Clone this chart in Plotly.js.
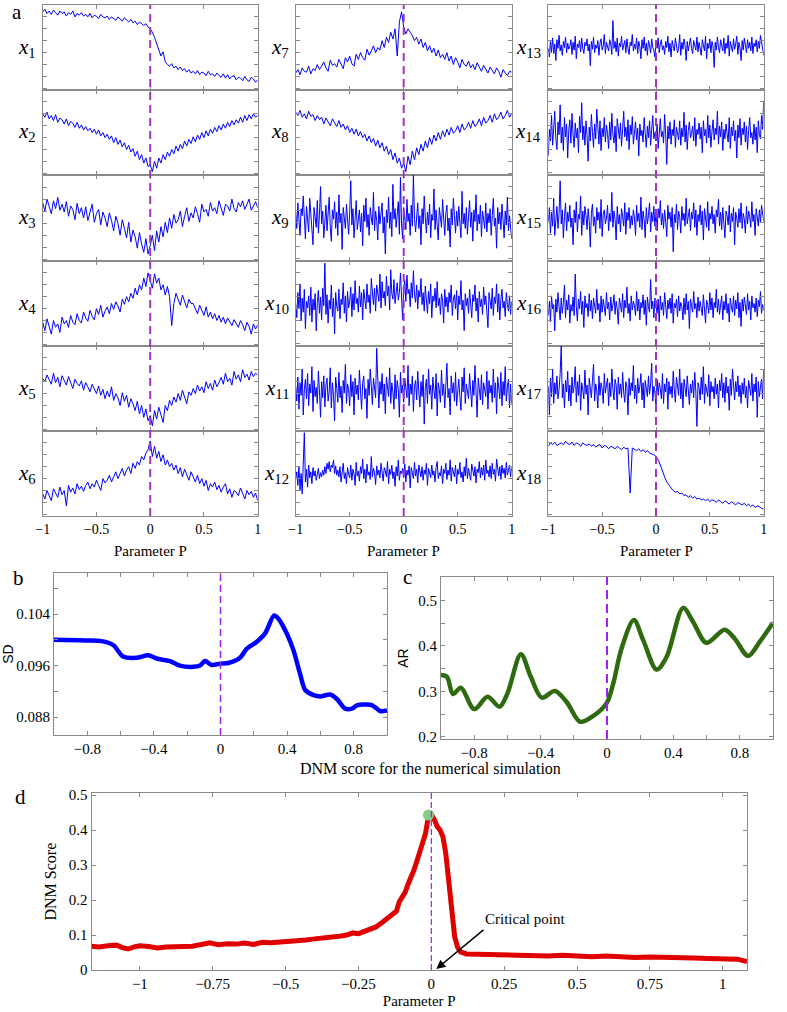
<!DOCTYPE html>
<html>
<head>
<meta charset="utf-8">
<script src="https://cdn.plot.ly/plotly-3.0.1.min.js"></script>
<style>html,body{margin:0;padding:0;background:#fff}#chart{width:787px;height:1012px}</style>
</head>
<body>
<div id="chart"></div>
<script>
// panel a series (relative units, 0 = bottom of subplot, 100 = top), sampled evenly over P in [-1, 1]
const X1 = [92,95,90,93,89,94,91,88,93,90, 92,87,91,89,93,86,90,88,91,87, 89,86,90,85,88,87,84,89,86,85, 87,83,86,84,82,86,83,81,85,82, 80,83,79,81,77,80,78,76,78,74, 72,68,62,55,48,40,45,33,30,28, 31,26,28,24,27,23,25,21,24,20, 22,19,23,18,21,20,17,22,18,19, 16,20,17,15,19,14,18,13,16,17, 12,15,14,11,16,12,10,15,13,9,12];
const X2 = [72,68,74,66,70,64,71,62,67,65, 60,66,58,63,61,56,62,55,59,53, 57,52,55,50,54,48,53,46,50,44, 48,42,46,38,44,36,41,33,38,30, 35,27,31,22,28,18,24,14,20,10, 12,4,16,8,20,14,24,18,27,22, 30,25,34,28,36,31,40,34,42,37, 45,39,47,42,50,44,52,46,54,49, 56,51,58,53,60,55,62,57,64,59, 65,61,68,62,70,64,71,66,72,68,70];
const X3 = [68,58,72,63,55,70,61,74,59,66, 57,69,52,64,60,48,67,55,62,50, 63,47,58,66,45,55,60,42,57,50, 40,56,47,35,52,44,30,48,38,27, 45,22,36,28,15,33,20,10,26,8, 18,30,12,35,22,40,28,45,33,50, 38,54,44,48,58,40,52,62,46,56, 50,63,55,45,66,57,60,52,68,58, 62,55,70,60,53,66,64,58,72,61, 57,68,63,70,60,66,72,59,65,69,62];
const X4 = [28,18,32,24,14,30,22,26,16,34, 26,30,22,36,28,25,38,30,27,40, 33,29,42,35,31,44,37,48,34,41, 46,38,50,43,52,47,40,55,49,58, 52,62,56,68,60,72,66,80,70,86, 76,68,85,74,80,66,72,60,70,58, 24,50,62,55,48,60,52,45,55,50, 50,44,38,48,42,36,46,34,40,32, 38,30,36,28,34,26,33,29,24,31, 27,22,30,25,18,28,23,14,26,20,25];
const X5 = [62,58,66,60,55,68,57,63,52,65, 60,54,64,58,50,61,56,53,59,48, 57,52,46,55,50,44,53,42,49,38, 47,40,52,36,44,39,30,45,35,42, 28,38,32,24,35,20,30,16,26,12, 18,6,24,14,28,20,10,30,24,36, 30,40,34,44,36,48,40,32,46,42, 50,44,54,47,52,45,58,50,56,48, 60,52,57,63,55,68,58,62,54,70, 61,66,58,72,63,67,60,70,64,68,66];
const X6 = [26,20,30,24,18,32,27,22,34,25, 30,12,36,28,33,26,38,31,35,29, 36,40,32,38,34,42,36,30,44,39, 42,48,40,46,52,44,50,56,47,54, 58,50,62,56,64,60,70,66,74,78, 88,70,82,68,76,64,72,60,66,58, 62,54,60,50,57,46,55,48,42,52, 45,40,48,38,44,35,42,30,38,34, 40,31,36,28,34,38,26,32,22,30, 28,24,33,26,20,30,25,29,22,27,18];
const X7 = [20,24,18,26,22,21,28,19,25,23, 30,24,28,33,26,22,35,29,31,27, 36,30,25,38,33,40,31,28,42,36, 44,38,35,48,41,46,52,44,50,47, 58,50,62,56,68,60,72,40,80,92, 74,66,72,68,64,58,62,54,60,50, 56,46,52,44,49,40,47,38,42,36, 44,34,40,30,38,33,26,36,30,28, 34,26,30,24,32,27,22,29,25,20, 27,23,19,26,22,15,24,20,17,22,21];
const X8 = [74,70,76,68,72,66,75,69,71,64, 70,65,68,60,67,63,58,66,61,57, 64,56,60,53,58,50,55,48,54,46, 51,44,48,40,46,38,43,34,41,32, 38,28,34,24,30,18,26,14,20,8, 14,4,22,12,28,18,32,24,36,28, 40,32,44,36,47,40,50,42,52,45, 54,47,56,49,52,58,50,60,53,56, 62,55,64,57,60,66,58,68,61,64, 70,62,72,65,68,74,66,70,76,68,72];
const X9 = [58,44,66,50,38,61,55,72,47,35,63,52,41,70,57,49,30,62,54,45, 68,40,56,80,48,59,36,51,64,42,55,71,46,33,60,52,67,44,58,38, 73,49,57,26,62,50,44,65,53,39,58,85,47,61,36,55,68,43,52,60, 41,57,29,64,50,70,45,56,38,62,53,47,75,42,59,51,34,63,48,57, 66,40,54,22,60,49,71,44,58,37,82,52,61,45,55,67,39,88,48,35, 62,54,43,69,50,57,38,64,46,90,52,41,59,66,44,55,30,61,48,72, 53,40,58,47,65,36,56,51,78,43,60,49,34,62,55,45,69,50,38,57, 64,42,53,28,61,47,70,55,40,59,46,63,51,36,76,48,57,44,62,39, 54,68,45,58,33,60,50,73,42,56,48,64,37,59,52,44,66,41,57,49, 61,38,55,70,46,53,27,62,48,58,43,65,51,36,59,47,71,42,55,45, 35];
const X10 = [52,40,63,48,71,37,58,45,66,30,55,49,60,42,68,36,57,47,62,28, 54,65,44,59,38,67,51,90,43,61,35,56,48,70,41,58,25,63,50,46, 66,39,57,52,72,44,60,36,64,49,55,68,41,62,47,74,53,58,45,69, 50,63,38,66,57,48,71,54,61,44,76,59,52,67,46,70,62,55,80,49, 73,58,64,51,78,60,69,47,84,62,57,75,53,66,72,56,63,81,59,38, 68,74,55,79,62,66,50,72,58,83,61,54,70,48,65,59,76,52,63,46, 69,57,44,64,53,71,40,60,55,67,49,73,51,58,43,62,56,35,66,50, 59,45,63,54,70,42,57,61,48,65,38,60,52,74,47,56,28,62,51,58, 44,66,53,40,61,55,70,46,58,36,64,50,57,43,68,52,60,45,31,63, 56,48,67,42,59,53,71,45,62,38,57,66,49,55,41,63,52,46,60,43, 55];
const X11 = [55,42,63,35,58,47,70,30,52,61,44,66,38,57,49,72,33,60,46,54, 40,68,51,28,59,45,64,37,56,62,42,50,71,36,58,47,25,63,53,41, 67,45,55,32,60,49,74,40,57,52,38,65,46,59,30,62,48,56,43,69, 51,35,58,64,44,53,27,61,47,70,55,39,62,50,45,88,52,36,59,48, 66,42,57,31,63,54,46,71,40,58,50,35,65,44,60,52,28,67,49,56, 41,62,53,45,73,38,57,48,64,33,55,60,43,68,50,37,59,46,65,22, 54,61,40,70,48,56,35,63,51,44,66,29,58,52,41,69,47,57,36,62, 75,45,53,30,64,49,58,42,67,38,55,61,46,34,63,50,71,40,57,48, 44,66,52,37,60,47,73,55,28,62,50,43,65,39,58,53,46,68,35,60, 49,56,41,70,45,58,31,63,52,44,67,38,59,47,72,42,55,61,36,57, 40];
const X12 = [44,52,36,58,30,50,26,61,98,40,55,34,60,45,52,38,57,47,53,42, 49,56,44,51,46,54,48,58,50,62,55,64,52,60,57,66,50,59,48,54, 46,58,40,53,62,44,51,38,57,49,45,60,42,55,50,36,63,47,53,41, 58,50,67,44,55,39,61,48,52,43,70,46,56,51,37,59,48,54,45,62, 50,41,57,53,46,64,38,55,49,60,44,52,35,58,47,66,42,53,50,56, 45,61,40,54,48,59,33,57,51,44,63,47,55,39,60,52,46,58,42,54, 49,62,36,56,50,45,60,48,53,40,57,64,44,51,47,59,38,55,50,62, 43,54,48,66,41,57,52,46,60,38,55,49,63,45,52,40,58,47,68,44, 56,50,42,61,53,47,58,39,55,51,64,45,57,48,60,42,66,50,54,46, 59,44,62,49,55,41,67,52,47,58,43,60,50,56,45,63,48,54,60,46, 57];
const X13 = [50,40,58,46,62,44,55,36,60,50,65,47,54,42,58,51,63,45,56,49, 52,60,43,57,48,64,38,55,51,59,46,62,50,44,57,53,61,47,55,30, 58,49,63,45,54,50,59,42,56,61,48,53,66,44,57,51,47,60,55,43, 82,50,58,46,62,41,56,52,64,48,55,59,45,61,50,43,57,53,66,47, 55,49,62,44,58,52,38,60,50,63,47,56,42,59,54,45,61,51,48,40, 57,50,62,45,55,60,48,53,43,58,51,64,46,56,40,59,52,47,62,55, 45,50,66,42,57,49,61,53,36,58,47,55,62,50,44,59,54,48,63,46, 57,51,42,60,55,47,64,38,56,50,61,45,58,52,28,57,48,63,51,45, 60,53,47,62,44,56,50,65,41,58,53,46,61,49,55,64,43,57,51,36, 59,48,62,54,45,60,50,57,47,63,44,56,52,60,46,58,50,65,55,48, 42];
const X14 = [30,55,44,68,40,58,72,46,36,62,50,78,42,57,35,66,48,60,28,54, 64,42,70,50,38,61,47,56,33,67,52,80,45,58,40,63,49,25,57,44, 69,52,38,60,46,74,54,41,63,35,56,48,66,43,59,51,37,62,45,70, 50,42,58,34,65,53,46,61,39,55,72,48,57,44,64,36,59,50,67,41, 53,62,45,56,30,60,49,54,43,66,51,38,58,47,63,40,55,68,46,52, 44,60,37,57,65,48,53,42,69,50,22,58,46,62,41,55,49,64,38,57, 52,45,63,40,56,48,71,43,59,36,54,62,47,51,58,44,66,39,55,50, 61,46,57,33,63,49,55,42,68,47,59,38,53,64,45,56,50,72,41,58, 48,62,35,55,46,60,51,43,66,37,57,49,63,44,54,28,59,47,65,40, 56,50,62,43,58,36,54,66,47,52,41,60,45,57,33,63,50,46,68,55, 82];
const X15 = [50,62,40,58,46,70,38,55,63,44,57,85,48,60,36,54,66,42,58,50, 64,45,53,30,60,49,67,41,56,52,72,38,59,47,63,55,43,61,50,28, 57,65,46,54,40,62,51,58,44,69,37,56,60,48,53,64,42,57,50,75, 45,59,52,34,63,48,56,41,61,54,46,66,39,58,51,62,44,55,47,60, 53,38,64,50,57,45,71,43,59,52,36,62,48,55,66,41,58,50,63,46, 56,42,61,53,68,47,57,44,60,50,37,64,52,58,45,62,24,56,49,65, 43,59,54,40,63,51,57,46,70,48,55,61,42,58,52,66,45,60,38,56, 50,64,47,59,34,61,53,45,67,42,57,52,63,48,56,40,60,54,69,46, 58,43,62,51,36,59,55,47,64,41,57,50,62,30,58,53,45,61,49,66, 44,57,52,40,63,48,59,54,45,67,50,56,38,61,53,46,60,49,64,57, 50];
const X16 = [42,55,36,60,48,52,28,57,45,63,50,38,58,44,54,70,40,56,47,61, 35,52,46,59,42,80,50,37,57,48,64,43,55,31,60,49,53,41,62,46, 56,39,58,50,44,66,47,53,36,60,45,57,51,42,63,48,54,38,59,46, 52,61,43,55,48,34,58,50,45,62,40,56,49,68,44,53,37,60,47,55, 51,42,64,46,57,38,54,49,61,43,56,33,59,50,45,75,48,55,40,58, 52,44,57,36,60,47,54,42,63,50,39,56,48,58,44,62,35,53,49,57, 41,60,46,54,50,38,58,43,62,47,55,30,57,51,45,64,48,53,40,59, 46,55,50,42,61,48,35,56,52,44,63,47,58,40,54,49,66,45,57,43, 52,60,38,55,47,62,44,53,36,58,50,45,60,42,56,48,63,40,54,32, 57,46,59,50,43,62,47,55,38,60,49,53,45,58,41,56,50,64,44,52, 47];
const X17 = [55,30,62,46,70,40,58,48,64,44,52,66,90,45,57,36,60,50,68,42, 56,38,63,49,55,72,41,59,47,65,34,58,52,44,69,48,56,30,62,50, 45,60,74,42,57,51,36,64,47,58,53,40,66,49,55,62,38,58,46,70, 52,43,61,56,35,63,48,57,45,67,50,41,59,54,30,62,47,58,51,73, 44,56,40,62,49,55,66,43,58,36,60,52,46,64,48,57,75,42,55,50, 38,61,47,58,53,44,66,40,57,50,62,35,59,48,55,45,68,52,41,63, 56,47,70,44,58,36,61,51,46,64,53,39,57,49,60,45,67,50,20,58, 54,43,63,48,72,40,57,52,46,65,38,59,50,55,44,62,48,57,36,60, 51,66,45,58,41,63,49,55,34,61,47,70,52,43,59,50,64,46,56,40, 58,48,62,45,55,36,60,52,47,66,42,57,50,63,28,59,46,54,61,44, 70];
const X18 = [82,86,84,87,83,85,86,84,88,85, 84,87,83,86,85,82,86,84,83,85, 82,84,81,83,84,80,83,82,79,82, 81,79,82,80,78,81,79,80,27,80, 78,77,79,76,78,75,77,74,73,72, 70,66,60,52,46,40,36,33,30,28, 29,26,27,24,25,22,24,21,23,20, 21,19,20,18,20,17,19,18,16,19, 17,15,18,16,14,17,15,13,16,14, 13,15,12,14,11,13,10,12,11,9,8];
const SERIES_A = [X1,X2,X3,X4,X5,X6,X7,X8,X9,X10,X11,X12,X13,X14,X15,X16,X17,X18];
const TICKS_A = [-1,-0.5,0,0.5,1];
// visible vertical window of each panel-a subplot (axis range, relative units)
const YRANGE_A = [[0,100],[0,100],[0,100],[0,100],[0,100],[0,100],
                  [0,100],[0,100],[16,90],[14,92],[16,90],[0,100],
                  [2,100],[12,92],[16,90],[14,92],[16,90],[0,100]];

// panel b: SD
const SD_P = [-1,-0.805,-0.715,-0.645,-0.585,-0.505,-0.434,-0.384,-0.304,-0.244,-0.163,-0.123,-0.093,-0.053,-0.003,0.047,0.117,0.157,0.218,0.268,0.322,0.348,0.398,0.438,0.478,0.509,0.559,0.599,0.659,0.699,0.749,0.789,0.819,0.9,0.93,0.96,1.0];
const SD_V = [0.1000,0.0999,0.0998,0.0992,0.0974,0.0972,0.0976,0.0971,0.0967,0.0960,0.0958,0.0960,0.0967,0.0961,0.0963,0.0964,0.0972,0.0986,0.0997,0.1010,0.1038,0.1033,0.1010,0.0984,0.0947,0.0922,0.0914,0.0912,0.0915,0.0908,0.0893,0.0893,0.0898,0.0899,0.0895,0.0889,0.0890];

// panel c: AR
const AR_P = [-1,-0.964,-0.928,-0.880,-0.800,-0.719,-0.647,-0.599,-0.519,-0.459,-0.393,-0.313,-0.242,-0.162,-0.082,-0.002,0.038,0.088,0.162,0.218,0.299,0.359,0.459,0.519,0.599,0.709,0.770,0.850,0.920,1.0];
const AR_V = [0.336,0.332,0.294,0.308,0.261,0.288,0.266,0.296,0.382,0.332,0.286,0.301,0.276,0.233,0.246,0.274,0.318,0.395,0.457,0.413,0.348,0.376,0.484,0.453,0.407,0.436,0.416,0.378,0.409,0.451];

// panel d: DNM score
const DNM_P = [-1.166,-1.14,-1.11,-1.08,-1.06,-1.04,-1.02,-1.0,-0.97,-0.94,-0.91,-0.88,-0.85,-0.82,-0.79,-0.76,-0.73,-0.70,-0.67,-0.64,-0.61,-0.58,-0.55,-0.52,-0.49,-0.46,-0.43,-0.40,-0.37,-0.34,-0.31,-0.29,-0.27,-0.25,-0.23,-0.21,-0.19,-0.17,-0.15,-0.13,-0.12,-0.11,-0.10,-0.09,-0.08,-0.07,-0.06,-0.05,-0.04,-0.03,-0.02,-0.01,0.0,0.01,0.02,0.03,0.04,0.05,0.06,0.07,0.08,0.09,0.10,0.12,0.15,0.2,0.25,0.3,0.35,0.4,0.45,0.5,0.55,0.6,0.65,0.7,0.75,0.8,0.85,0.9,0.95,1.0,1.05,1.083];
const DNM_V = [0.068,0.066,0.069,0.071,0.064,0.060,0.066,0.069,0.067,0.063,0.066,0.065,0.067,0.068,0.072,0.078,0.072,0.075,0.074,0.077,0.073,0.079,0.078,0.080,0.079,0.083,0.086,0.089,0.091,0.093,0.097,0.100,0.106,0.104,0.110,0.118,0.123,0.135,0.148,0.160,0.168,0.195,0.210,0.222,0.245,0.262,0.285,0.31,0.34,0.37,0.39,0.44,0.445,0.43,0.41,0.40,0.38,0.33,0.24,0.15,0.095,0.065,0.052,0.046,0.045,0.046,0.044,0.042,0.041,0.040,0.042,0.039,0.038,0.040,0.037,0.036,0.037,0.035,0.036,0.034,0.033,0.033,0.031,0.024];
const PEAK_P = [-0.01];
const PEAK_V = [0.443];

const W = 787, H = 1012;
const px = x => x / W;
const py = y => 1 - y / H;
const SERIF = 'Liberation Serif, Times New Roman, serif';
const SANS = 'Liberation Sans, Arial, sans-serif';
const GREY = '#8a8a8a';
const PURPLE_A = '#a035c0';
const PURPLE = '#a020f0';

const colX = [[42.7,257.7],[295.7,511.7],[548.3,763.7]];
const rowY = [[5,90],[90,175],[175,261],[261,346],[346,431],[431,516]];

// even sampling grid over P in [-1, 1] for a series of n samples
const gridFor = arr => arr.map((_, i) => -1 + 2 * i / (arr.length - 1));

const data = [];
const layout = {
  width: W, height: H,
  margin: {l:0, r:0, t:0, b:0},
  paper_bgcolor: '#fff', plot_bgcolor: '#fff',
  showlegend: false,
  annotations: [], shapes: []
};

function axBase(extra) {
  return Object.assign({
    showline: true, linecolor: GREY, linewidth: 1, mirror: 'ticks',
    ticks: 'inside', ticklen: 4, tickcolor: GREY, tickwidth: 1,
    showgrid: false, zeroline: false, fixedrange: true
  }, extra);
}

for (let k = 1; k <= 18; k++) {
  const c = Math.floor((k-1)/6), r = (k-1) % 6;
  const xs = k === 1 ? '' : String(k);
  const ys = SERIES_A[k-1];
  data.push({
    x: gridFor(ys), y: ys, type: 'scatter', mode: 'lines',
    line: {color: '#0000ff', width: 1},
    xaxis: 'x' + xs, yaxis: 'y' + xs, hoverinfo: 'skip'
  });
  layout['xaxis' + xs] = axBase({
    domain: [px(colX[c][0]), px(colX[c][1])], range: [-1, 1],
    anchor: 'y' + xs, tickvals: TICKS_A,
    showticklabels: r === 5,
    tickfont: {family: SERIF, size: 14, color: '#000'}
  });
  const yr = YRANGE_A[k-1];
  layout['yaxis' + xs] = axBase({
    domain: [py(rowY[r][1]), py(rowY[r][0])], range: yr,
    anchor: 'x' + xs, dtick: (yr[1]-yr[0]) * 0.14, tick0: yr[0] + 2, showticklabels: false
  });
  layout.annotations.push({
    xref: 'paper', yref: 'paper', x: px(colX[c][0] - 5), y: py((rowY[r][0] + rowY[r][1]) / 2),
    xanchor: 'right', yanchor: 'middle', showarrow: false,
    text: '<i>x</i><sub>' + k + '</sub>',
    font: {family: SERIF, size: 21, color: '#000'}
  });
  if (r === 0) {
    layout.shapes.push({
      type: 'line', xref: 'x' + xs, yref: 'paper', x0: 0, x1: 0,
      y0: py(516), y1: py(5),
      line: {color: PURPLE_A, width: 2, dash: '8px,5px'}
    });
    layout.annotations.push({
      xref: 'paper', yref: 'paper', x: px((colX[c][0] + colX[c][1]) / 2), y: py(551),
      xanchor: 'center', yanchor: 'middle', showarrow: false,
      text: 'Parameter P', font: {family: SERIF, size: 15, color: '#000'}
    });
  }
}

// panel b
data.push({x: SD_P, y: SD_V, type: 'scatter', mode: 'lines', line: {color: '#0000ff', width: 4.5, shape: 'spline', smoothing: 0.8}, xaxis: 'x19', yaxis: 'y19', hoverinfo: 'skip'});
layout.xaxis19 = axBase({domain: [px(54), px(387)], range: [-1, 1], anchor: 'y19', tick0: -0.8, dtick: 0.4,
  minor: {dtick: 0.2, ticks: 'inside', ticklen: 4, tickcolor: GREY},
  tickfont: {family: SERIF, size: 15, color: '#000'}});
layout.yaxis19 = axBase({domain: [py(735), py(573)], range: [0.0852, 0.1104], anchor: 'x19', tick0: 0.088, dtick: 0.008,
  tickformat: '.3f', minor: {dtick: 0.004, ticks: 'inside', ticklen: 4, tickcolor: GREY},
  tickfont: {family: SERIF, size: 15, color: '#000'},
  title: {text: 'SD', font: {family: SANS, size: 14, color: '#000'}, standoff: 4}});
layout.shapes.push({type: 'line', xref: 'x19', yref: 'y19 domain', x0: 0, x1: 0, y0: 0, y1: 1,
  line: {color: PURPLE, width: 1.5, dash: '7px,4px'}});

// panel c
data.push({x: AR_P, y: AR_V, type: 'scatter', mode: 'lines', line: {color: '#2e6a10', width: 4.5, shape: 'spline', smoothing: 0.9}, xaxis: 'x20', yaxis: 'y20', hoverinfo: 'skip'});
layout.xaxis20 = axBase({domain: [px(441), px(773)], range: [-1, 1], anchor: 'y20', tick0: -0.8, dtick: 0.4,
  minor: {dtick: 0.2, ticks: 'inside', ticklen: 4, tickcolor: GREY},
  tickfont: {family: SERIF, size: 15, color: '#000'}});
layout.yaxis20 = axBase({domain: [py(739), py(577)], range: [0.195, 0.552], anchor: 'x20', tick0: 0.2, dtick: 0.1,
  minor: {dtick: 0.05, ticks: 'inside', ticklen: 4, tickcolor: GREY},
  tickfont: {family: SERIF, size: 15, color: '#000'},
  title: {text: 'AR', font: {family: SANS, size: 14, color: '#000'}, standoff: 6}});
layout.shapes.push({type: 'line', xref: 'x20', yref: 'y20 domain', x0: 0, x1: 0, y0: 0, y1: 1,
  line: {color: PURPLE, width: 2, dash: '9px,5px'}});

// panel d
data.push({x: DNM_P, y: DNM_V, type: 'scatter', mode: 'lines', line: {color: '#e00000', width: 5, shape: 'linear'}, xaxis: 'x21', yaxis: 'y21', hoverinfo: 'skip'});
data.push({x: PEAK_P, y: PEAK_V, type: 'scatter', mode: 'markers', marker: {color: '#86cc86', size: 11}, xaxis: 'x21', yaxis: 'y21', hoverinfo: 'skip'});
layout.xaxis21 = axBase({domain: [px(91.5), px(747)], range: [-1.166, 1.083], anchor: 'y21', tick0: 0, dtick: 0.25,
  tickfont: {family: SERIF, size: 15, color: '#000'},
  title: {text: 'Parameter P', font: {family: SERIF, size: 15, color: '#000'}, standoff: 4}});
layout.yaxis21 = axBase({domain: [py(970), py(793.3)], range: [0, 0.505], anchor: 'x21', tick0: 0, dtick: 0.1,
  tickfont: {family: SERIF, size: 15, color: '#000'},
  title: {text: 'DNM Score', font: {family: SERIF, size: 16, color: '#000'}, standoff: 8}});
layout.shapes.push({type: 'line', xref: 'x21', yref: 'y21 domain', x0: 0, x1: 0, y0: 0, y1: 1,
  line: {color: PURPLE, width: 1.2, dash: '6px,3px'}});
layout.annotations.push({xref: 'x21', yref: 'y21', x: 0.017, y: 0.003, ax: 0.184, ay: 0.118, axref: 'x21', ayref: 'y21',
  text: '', showarrow: true, arrowhead: 2, arrowsize: 1.2, arrowwidth: 1.5, arrowcolor: '#000'});
layout.annotations.push({xref: 'x21', yref: 'y21', x: 0.322, y: 0.146, showarrow: false,
  text: 'Critical point', font: {family: SERIF, size: 15, color: '#000'}});
layout.annotations.push({xref: 'paper', yref: 'paper', x: px(430), y: py(779), showarrow: false,
  text: 'DNM score for the numerical simulation', font: {family: SERIF, size: 16, color: '#000'}});

// panel letters
[['a', 17, 12], ['b', 18, 578], ['c', 407, 577], ['d', 20, 797]].forEach(([t, x, y]) => {
  layout.annotations.push({xref: 'paper', yref: 'paper', x: px(x), y: py(y), showarrow: false,
    xanchor: 'center', yanchor: 'middle', text: t, font: {family: SERIF, size: 21, color: '#000'}});
});

Plotly.newPlot('chart', data, layout, {staticPlot: true, displayModeBar: false});
</script>
</body>
</html>
